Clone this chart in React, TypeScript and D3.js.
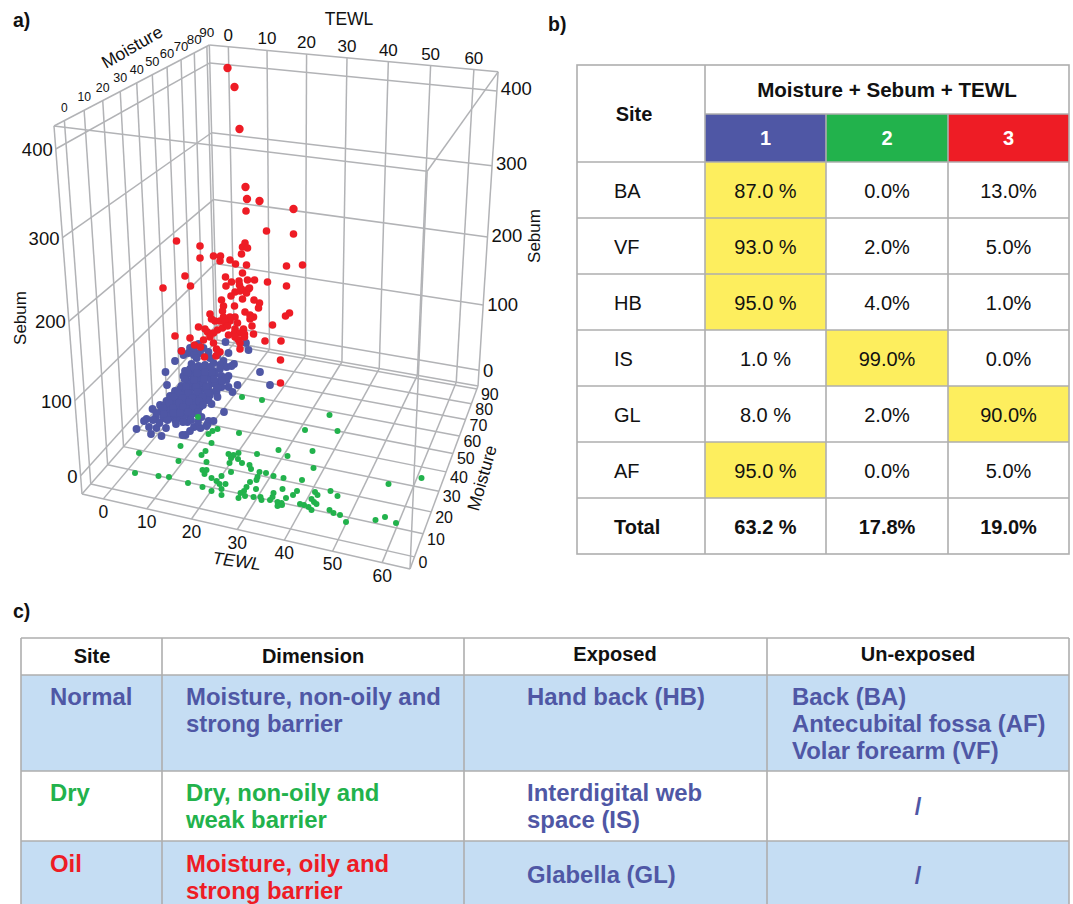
import React from "react";
import * as d3 from "d3";

// Values. Each point is [TEWL, Sebum] as read in the picture plane,
// on the viewScale axes below: a flat 3D view does not reveal the depth, so a floor point
// may read below zero.
const tewlTicks = [0, 10, 20, 30, 40, 50, 60];
const moistureTicks = [0, 10, 20, 30, 40, 50, 60, 70, 80, 90];
const sebumTicks = [0, 100, 200, 300, 400];

const bluePoints: number[][] = [
  [25.1,138],[29.2,137],[29.7,130],[25.7,127],[15,119],[13.1,108],[32,108],[34,95],[13.4,95],[26.8,116],[27.5,95],[25.7,93],[26.5,88],[25.7,104],[25.3,100],[23.3,88],[23.5,83],[24.8,68],[22.3,76],[21.7,80],
  [10.5,71],[12,75],[12.3,70],[11.2,63],[12.7,62],[9.3,61],[8.8,59],[7.3,51],[9.8,53],[11.3,52],[11.9,57],[10.2,46],[12.3,44],[14.3,63],[15,60],[16,62],[17.5,58],[18.8,53],[18,49],[17.1,45],[16.5,45],[20.1,52],[21.7,59],[22.7,59],[21.5,56],[21.3,54],[18.8,67],[20.3,63],[17.7,65],
  [18,132],[18.8,131],[19.7,136],[20.7,132],[16.7,125],[17.7,127],[20,127],[18.8,125],[21.7,128],[22,122],[23.5,125],[19.3,122],[24.7,119],[24,115],[25.3,113],[26.3,114],[16.3,129],
  [18.3,116],[19.7,114],[21,115],[22.7,117],
  [17,109],[18,111],[19,108],[20,110],[21.3,112],[22.7,109],[24,111],
  [16.7,104],[17.7,106],[18.7,103],[19.7,105],[20.7,107],[21.7,104],[23,106],[24.3,104],
  [17.3,100],[18.3,98],[19.3,101],[20.3,99],[21.3,102],[22.3,100],[23.7,98],[25,101],
  [16.3,94],[17.7,96],[18.7,93],[19.7,95],[20.7,97],[21.7,94],[23,96],[24.3,93],
  [15,89],[16,91],[17,88],[18,90],[19,92],[20,89],[21,91],[22,88],[23.3,90],
  [14,84],[15,86],[16,83],[17,85],[18,87],[19,84],[20,86],[21,83],[22,85],
  [13.3,79],[14.3,81],[15.3,78],[16.3,80],[17.3,82],[18.3,79],[19.3,81],[20.3,78],[21.3,80],
  [13,74],[14,76],[15,73],[16,75],[17,77],[18,74],[19,76],[20,73],
  [13.3,69],[14.3,71],[15.3,68],[16.3,70],[17.3,72],[18.3,69],[19.3,71],
  [14,64],[15,66],[16.7,64],[18.3,66],
  [18.9,112],[20.6,113],[22,113],[17.5,107],[19.4,107],[21,108],[22.4,107],[16.9,101],[18.8,100],[20.8,101],[22.8,101],[24.4,99],
  [17.2,93],[19.2,93],[21.2,93],[23.5,92],[15.6,87],[17.6,87],[19.5,88],[21.5,87],[14.6,83],[16.5,82],[18.5,82],[20.5,83],
  [13.8,77],[15.8,77],[17.8,78],[19.8,79],[12.6,72],[14.6,72],[16.6,73],[18.6,72],[20.6,75],[14.7,67],[16,67],[17.6,68],[19.6,68],
  [13.5,60],[15.2,56],[16.6,58],[18.2,60],[12.7,66],[11.3,67],[10.6,60],[13.2,52],[19.6,58],
];

const greenPoints: number[][] = [
  [28.4,83],[32.4,80],[19.6,63],[23.5,51],[22.5,49],[21.7,46],[27.8,47],[22.3,37],[16.1,34],[7.8,27],[21.1,29],[20.3,25],[15.7,19],[35.7,30],[37.5,24],[31.4,26],[25.7,26],[26.7,25],[27.7,27],[26.2,22],[25.9,17],[27.6,21],[28.4,17],[21.3,18],[29.9,15],[30.2,11],[26.2,8],[7,7],[11.7,4],[13.8,3],[20.5,10],[21.3,10],[20.9,6],[24.3,4],[22.3,2],[23.3,-1],[31.9,8],[33.2,7],[31.5,3],[31.3,0],[34.7,4],[36.7,2],[30,-2],[17.6,-3],[23.9,-4],[25.1,-4],[20.5,-7],[24.3,-9],[22.3,-11],[29.3,-7],[28.8,-11],[31.2,-9],[34.7,-13],[28.1,-13],[24.3,-15],[27.7,-18],[29,-16],[30.7,-17],[32.1,-17],[32.3,-20],[34,-20],[34.5,-17],[37.2,-18],[35.5,-22],[35.7,-25],[36.3,-23],
  [45.9,65],[41,50],[47.5,49],[42.5,29],[42.7,12],[40.4,0],[64.3,2],[57.7,-4],[36.5,-9],[39.4,-11],[38.6,-15],[46.1,-11],[43,-12],[43.5,-15],[47.5,-16],[35.5,-26],[36.4,-25],[40,-24],[40.8,-25],[41.7,-27],[42.3,-30],[42.3,-19],[42.8,-22],[43.3,-24],[45.9,-30],[46.7,-33],[48,-35],[49.2,-42],[55.1,-40],[57,-37],[59.2,-43],
];

const redPoints: number[][] = [
  [25.5,412],[26.9,393],[27.9,351],[29.1,293],[29.4,281],[31.9,279],[29.2,269],[38.7,271],[33.3,249],[38.7,246],[15.3,239],[20,234],[29,237],[28.5,233],[29.5,232],[28.3,226],[20,222],[22.7,224],[24.1,224],[24,219],[26,220],[27.1,216],[29.3,215],[37.3,214],[40.5,215],[28.5,207],[25.1,203],[17,204],[26.3,198],[27.8,199],[29.5,200],[30.9,200],[33.5,198],[37.3,194],[12.6,192],[18.1,194],[25.2,194],[27.9,195],[28.3,191],[29.7,191],[27,188],[28,189],[29.3,187],[29.9,192],[26.2,184],[28.5,181],[24.3,180],[30.8,180],[31.9,177],[31.7,172],[24.7,174],[26.9,174],[24.5,169],[29,168],[37.9,167],[37.1,164],[22,166],[30,165],[30.7,163],[30,161],[22.3,161],[24.7,163],[26,163],[27,163],[23,159],[24,159],[26,159],[25,158],[27.5,157],[30.4,154],[34.5,155],[19.7,153],[21,151],[21.5,148],[23.5,150],[24.5,152],[25.5,154],[27,151],[28.7,151],[22.7,147],[26.9,147],[28,147],[28.9,146],[25.7,145],[30.7,146],[15,144],[22,143],[18,142],[20.7,140],[22.7,137],[27,143],[27.7,140],[28.9,143],[28,137],[33,139],[36.2,139],[18.9,135],[20.1,133],[28,131],[16.3,129],[23.3,131],[24,128],[23.2,124],[20.9,123],[36.1,120],[36.1,97],
];

const bHeaderCols = ["1", "2", "3"];
const bSites = ["BA", "VF", "HB", "IS", "GL", "AF", "Total"];
const bCluster1 = ["87.0 %", "93.0 %", "95.0 %", "1.0 %", "8.0 %", "95.0 %", "63.2 %"];
const bCluster2 = ["0.0%", "2.0%", "4.0%", "99.0%", "2.0%", "0.0%", "17.8%"];
const bCluster3 = ["13.0%", "5.0%", "1.0%", "0.0%", "90.0%", "5.0%", "19.0%"];
const bHighlight = [0, 0, 0, 1, 2, 0, -1];

const C_BLUE = "#4f57a5";
const C_GREEN = "#22b24c";
const C_RED = "#ee1c25";
const C_YELLOW = "#fdee5e";
const C_ROW = "#c5ddf3";
const C_GRID = "#b2b3b6";
const C_LINE = "#aeaeae";
const FONT = "'Liberation Sans', Arial, sans-serif";

// scales for the marks
const tewlView = d3.scaleLinear().domain([0, 60]).range([100, 400]);
const sebumView = d3.scaleLinear().domain([0, 400]).range([480, 80]);

// perspective frame of the 3D box
const T0 = -5, T1 = 65.5, M0 = -5, M1 = 92, S0 = -25, S1 = 425;
const uScale = d3.scaleLinear().domain([T0, T1]).range([0, 1]);
const vScale = d3.scaleLinear().domain([M0, M1]).range([0, 1]);
const wScale = d3.scaleLinear().domain([S0, S1]).range([0, 1]);
const O = [82, 494, 1], X = [410, 569, 1], Y = [217, 340, 1], Z = [54, 126, 1];
const PA = 0.9118, PB = 1.2797, PC = 0.883; // perspective strength per axis

function project(t: number, m: number, s: number): [number, number] {
  const u = uScale(t), v = vScale(m), w = wScale(s);
  const h = [0, 1, 2].map(
    (i) =>
      u * (PA * X[i] - O[i]) + v * (PB * Y[i] - O[i]) + w * (PC * Z[i] - O[i]) + O[i]
  );
  return [h[0] / h[2], h[1] / h[2]];
}

function Seg({ a, b }: { a: [number, number]; b: [number, number] }) {
  return <line x1={a[0]} y1={a[1]} x2={b[0]} y2={b[1]} stroke={C_GRID} strokeWidth={1.5} />;
}

function Plot3D() {
  const segs: [[number, number], [number, number]][] = [];
  tewlTicks.forEach((t) => {
    segs.push([project(t, M0, S0), project(t, M1, S0)]);
    segs.push([project(t, M1, S0), project(t, M1, S1)]);
  });
  moistureTicks.forEach((m) => {
    segs.push([project(T0, m, S0), project(T1, m, S0)]);
    segs.push([project(T0, m, S0), project(T0, m, S1)]);
  });
  sebumTicks.forEach((s) => {
    segs.push([project(T0, M0, s), project(T0, M1, s)]);
    segs.push([project(T0, M1, s), project(T1, M1, s)]);
  });
  const edges: number[][][] = [
    [[T0, M0, S0], [T1, M0, S0]], [[T1, M0, S0], [T1, M1, S0]], [[T1, M1, S0], [T0, M1, S0]], [[T0, M1, S0], [T0, M0, S0]],
    [[T0, M0, S1], [T1, M0, S1]], [[T1, M0, S1], [T1, M1, S1]], [[T1, M1, S1], [T0, M1, S1]], [[T0, M1, S1], [T0, M0, S1]],
    [[T0, M0, S0], [T0, M0, S1]], [[T1, M0, S0], [T1, M0, S1]], [[T1, M1, S0], [T1, M1, S1]], [[T0, M1, S0], [T0, M1, S1]],
  ];
  edges.forEach(([a, b]) => segs.push([project(a[0], a[1], a[2]), project(b[0], b[1], b[2])]));
  const moistureTopSize = d3.scaleLinear().domain([0, 90]).range([12, 13.5]);

  return (
    <g fontFamily={FONT} fill="#111">
      {segs.map((s, i) => <Seg key={i} a={s[0]} b={s[1]} />)}

      {bluePoints.map((d, i) => <circle key={"b" + i} cx={tewlView(d[0])} cy={sebumView(d[1])} r={3.9} fill={C_BLUE} />)}
      {greenPoints.map((d, i) => <circle key={"g" + i} cx={tewlView(d[0])} cy={sebumView(d[1])} r={3} fill={C_GREEN} />)}
      {redPoints.map((d, i) => <circle key={"r" + i} cx={tewlView(d[0])} cy={sebumView(d[1])} r={d[1] > 270 || (d[0] > 38 && d[1] > 260) ? 4.2 : 3.8} fill={C_RED} />)}

      {tewlTicks.map((t) => {
        const p = project(t, M0, S0);
        return <text key={"tf" + t} x={p[0]} y={p[1] + 19} fontSize={17.5} textAnchor="middle">{t}</text>;
      })}
      {tewlTicks.map((t) => {
        const p = project(t, M1, S1);
        return <text key={"tb" + t} x={p[0]} y={p[1] - 6} fontSize={17} textAnchor="middle">{t}</text>;
      })}
      {moistureTicks.map((m) => {
        const p = project(T0, m, S1);
        return <text key={"mt" + m} x={p[0]} y={p[1] - 9} fontSize={moistureTopSize(m)} textAnchor="middle">{m}</text>;
      })}
      {moistureTicks.map((m) => {
        const p = project(T1, m, S0);
        return <text key={"mr" + m} x={p[0] + 4} y={p[1] + 11} fontSize={16} textAnchor="start">{m}</text>;
      })}
      {sebumTicks.map((s) => {
        const p = project(T0, M0, s);
        return <text key={"sl" + s} x={p[0] - 3} y={p[1] + 7} fontSize={18.5} textAnchor="end">{s}</text>;
      })}
      {sebumTicks.map((s) => {
        const p = project(T1, M1, s);
        return <text key={"sr" + s} x={p[0] + 4} y={p[1] + 6.5 - (s / 400) * 3} fontSize={18.5} textAnchor="start">{s}</text>;
      })}

      <text x={349} y={25} fontSize={17.5} textAnchor="middle">TEWL</text>
      <text transform="translate(132,47) rotate(-30)" y={6} fontSize={17.5} textAnchor="middle">Moisture</text>
      <text transform="translate(20,318) rotate(-90)" y={6} fontSize={17} textAnchor="middle">Sebum</text>
      <text transform="translate(534,236) rotate(-90)" y={6} fontSize={17} textAnchor="middle">Sebum</text>
      <text transform="translate(237,561) rotate(8) skewX(-8)" y={6} fontSize={17.5} textAnchor="middle">TEWL</text>
      <text transform="translate(482,478) rotate(-74)" y={6} fontSize={17.5} textAnchor="middle">Moisture</text>
    </g>
  );
}

const bCols = [577, 705, 826, 948, 1069];
const bRows = [162, 218, 274, 330, 386, 442, 498, 554];

function TableB() {
  const cols = [bCluster1, bCluster2, bCluster3];
  const headFill = [C_BLUE, C_GREEN, C_RED];
  return (
    <g fontFamily={FONT} fill="#111">
      {bHeaderCols.map((h, i) => (
        <g key={h}>
          <rect x={bCols[i + 1]} y={114} width={bCols[i + 2] - bCols[i + 1]} height={48} fill={headFill[i]} />
          <text x={(bCols[i + 1] + bCols[i + 2]) / 2} y={145} fontSize={20} fontWeight="bold" fill="#fff" textAnchor="middle">{h}</text>
        </g>
      ))}
      {bHighlight.map((c, r) =>
        c >= 0 ? <rect key={r} x={bCols[c + 1]} y={bRows[r]} width={bCols[c + 2] - bCols[c + 1]} height={bRows[r + 1] - bRows[r]} fill={C_YELLOW} /> : null
      )}
      <g stroke={C_LINE} strokeWidth={1.6}>
        <rect x={577} y={65} width={492} height={489} fill="none" />
        <line x1={705} x2={1069} y1={114} y2={114} />
        {bRows.slice(0, -1).map((y) => <line key={y} x1={577} x2={1069} y1={y} y2={y} />)}
        <line x1={705} x2={705} y1={65} y2={554} />
        <line x1={826} x2={826} y1={114} y2={554} />
        <line x1={948} x2={948} y1={114} y2={554} />
      </g>
      <text x={634} y={121} fontSize={20} fontWeight="bold" textAnchor="middle">Site</text>
      <text x={887} y={97} fontSize={20.6} fontWeight="bold" textAnchor="middle">Moisture + Sebum + TEWL</text>
      {bSites.map((s, r) => {
        const y = (bRows[r] + bRows[r + 1]) / 2 + 7.5;
        const bold = s === "Total";
        return (
          <g key={s} fontWeight={bold ? "bold" : "normal"} fontSize={20}>
            <text x={614} y={y}>{s}</text>
            {cols.map((c, i) => (
              <text key={i} x={(bCols[i + 1] + bCols[i + 2]) / 2} y={y} textAnchor="middle">{c[r]}</text>
            ))}
          </g>
        );
      })}
    </g>
  );
}

const cHeaders = ["Site", "Dimension", "Exposed", "Un-exposed"];
const cRowNames = ["Normal", "Dry", "Oil"];
const cDimension = [["Moisture, non-oily and", "strong barrier"], ["Dry, non-oily and", "weak barrier"], ["Moisture, oily and", "strong barrier"]];
const cExposed = [["Hand back (HB)"], ["Interdigital web", "space (IS)"], ["Glabella (GL)"]];
const cUnexposed = [["Back (BA)", "Antecubital fossa (AF)", "Volar forearm (VF)"], ["/"], ["/"]];

function TableC() {
  const cols = [21, 162, 464, 767, 1069];
  const rows = [638, 675, 771, 841, 910];
  const firstBase = [705, 801, 872];
  const rowColor = [C_BLUE, C_GREEN, C_RED];
  const lh = 27;
  const head = [92, 313, 615, 918];
  return (
    <g fontFamily={FONT}>
      <rect x={21} y={675} width={1048} height={96} fill={C_ROW} />
      <rect x={21} y={841} width={1048} height={70} fill={C_ROW} />
      <g stroke={C_LINE} strokeWidth={1.6}>
        {rows.slice(0, -1).map((y) => <line key={y} x1={21} x2={1069} y1={y} y2={y} />)}
        {cols.map((x) => <line key={x} x1={x} x2={x} y1={638} y2={910} />)}
      </g>
      {cHeaders.map((h, i) => (
        <text key={h} x={head[i]} y={i < 2 ? 663 : 661} fontSize={20} fontWeight="bold" fill="#111" textAnchor="middle">{h}</text>
      ))}
      <g fontSize={23.9} fontWeight="bold">
        {cRowNames.map((n, r) => (
          <g key={n}>
            <text x={50} y={firstBase[r]} fill={rowColor[r]}>{n}</text>
            {cDimension[r].map((l, i) => <text key={i} x={186} y={firstBase[r] + i * lh} fill={rowColor[r]}>{l}</text>)}
            {cExposed[r].map((l, i) => <text key={i} x={527} y={(r === 2 ? 883 : firstBase[r]) + i * lh} fill={C_BLUE}>{l}</text>)}
            {cUnexposed[r].map((l, i) =>
              l === "/" ? (
                <text key={i} x={918} y={r === 1 ? 815 : 884} fill={C_BLUE} textAnchor="middle">{l}</text>
              ) : (
                <text key={i} x={792} y={firstBase[r] + i * lh} fill={C_BLUE}>{l}</text>
              )
            )}
          </g>
        ))}
      </g>
    </g>
  );
}

export default function App() {
  return (
    <svg width={1073} height={904} style={{ position: "absolute", left: 0, top: 0, display: "block", background: "#fff" }}>
      <g fontFamily={FONT} fontWeight="bold" fontSize={19.5} fill="#111">
        <text x={13} y={27}>a)</text>
        <text x={548} y={31}>b)</text>
        <text x={13} y={618}>c)</text>
      </g>
      <Plot3D />
      <TableB />
      <TableC />
    </svg>
  );
}
